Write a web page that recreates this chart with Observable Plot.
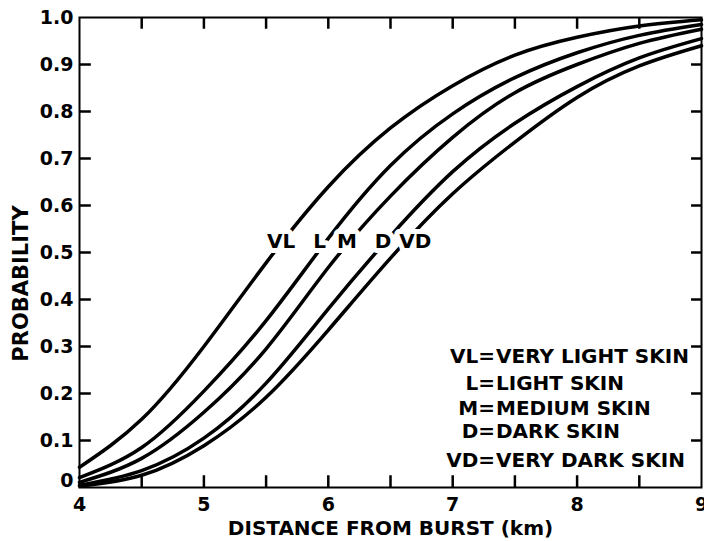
<!DOCTYPE html>
<html><head><meta charset="utf-8">
<script src="https://cdn.jsdelivr.net/npm/d3@7"></script>
<script src="https://cdn.jsdelivr.net/npm/@observablehq/plot@0.6"></script>
<style>
html,body{margin:0;padding:0;background:#fff;}
#chart svg text{font-weight:bold !important;font-family:'DejaVu Sans',sans-serif;}
</style></head><body><div id="chart"></div>
<script>
// distance from burst (km)
const distance = [4, 4.5, 5, 5.5, 6, 6.5, 7, 7.5, 8, 8.5, 9];
// probability per skin type
const veryLight = [0.043, 0.145, 0.300, 0.478, 0.640, 0.765, 0.855, 0.920, 0.958, 0.982, 0.995];
const light     = [0.021, 0.085, 0.205, 0.355, 0.530, 0.685, 0.795, 0.872, 0.925, 0.962, 0.985];
const medium    = [0.011, 0.062, 0.160, 0.295, 0.468, 0.620, 0.745, 0.840, 0.900, 0.945, 0.975];
const dark      = [0.005, 0.036, 0.105, 0.222, 0.380, 0.535, 0.672, 0.775, 0.853, 0.914, 0.955];
const veryDark  = [0.003, 0.026, 0.089, 0.192, 0.335, 0.488, 0.625, 0.735, 0.830, 0.897, 0.940];

const seriesKeys  = ["VL", "L", "M", "D", "VD"];
const seriesNames = ["VERY LIGHT SKIN", "LIGHT SKIN", "MEDIUM SKIN", "DARK SKIN", "VERY DARK SKIN"];
const seriesValues = [veryLight, light, medium, dark, veryDark];

// annotation anchors (data coordinates)
const labelX = [5.62, 5.93, 6.15, 6.44, 6.70];
const labelY = 0.523;
const legendX = 7.34;
const legendY = [0.278, 0.221, 0.168, 0.118, 0.057];

const xTickLabels = [4, 5, 6, 7, 8, 9];
const xMinorTicks = [4.5, 5, 5.5, 6, 6.5, 7, 7.5, 8, 8.5];
const yTickLabels = [0.1, 0.2, 0.3, 0.4, 0.5, 0.6, 0.7, 0.8, 0.9, 1.0];
const yTicks = [0.1, 0.2, 0.3, 0.4, 0.5, 0.6, 0.7, 0.8, 0.9];

const rows = [];
seriesKeys.forEach((k, i) => {
  distance.forEach((x, j) => rows.push({series: k, x, p: seriesValues[i][j]}));
});

const chart = Plot.plot({
  width: 704,
  height: 541,
  marginLeft: 79,
  marginRight: 3,
  marginTop: 17,
  marginBottom: 54,
  style: {background: "white", fontFamily: "'DejaVu Sans', sans-serif", overflow: "visible"},
  x: {domain: [4, 9], label: null},
  y: {domain: [0, 1], label: null},
  marks: [
    Plot.line(rows, {x: "x", y: "p", z: "series", stroke: "black", strokeWidth: 3.5, curve: "natural"}),
    Plot.text(seriesKeys, {x: (d, i) => labelX[i], y: () => labelY, text: d => d, fontSize: 20,
      fill: "black", stroke: "white", strokeWidth: 10, paintOrder: "stroke"}),
    Plot.frame({stroke: "black", strokeWidth: 2}),
    Plot.ruleX(xMinorTicks, {x: d => d, y1: 0, y2: 0.025, stroke: "black", strokeWidth: 2.5}),
    Plot.ruleX(xMinorTicks, {x: d => d, y1: 1, y2: 0.975, stroke: "black", strokeWidth: 2.5}),
    Plot.ruleY(yTicks, {y: d => d, x1: 4, x2: 4.095, stroke: "black", strokeWidth: 2.5}),
    Plot.ruleY(yTicks, {y: d => d, x1: 9, x2: 8.92, stroke: "black", strokeWidth: 2.5}),
    Plot.axisX(xTickLabels, {tickSize: 0, tickPadding: 10, fontSize: 19, tickFormat: d => String(d), label: null}),
    Plot.axisY(yTickLabels, {tickSize: 0, tickPadding: 6, fontSize: 19, tickFormat: d => d.toFixed(1), label: null}),
    Plot.axisY([0], {tickSize: 0, tickPadding: 6, fontSize: 19, tickFormat: () => "0", dy: -7, label: null}),
    Plot.text(seriesKeys, {x: () => legendX, y: (d, i) => legendY[i], text: d => d + "=", textAnchor: "end", fontSize: 20, fill: "black"}),
    Plot.text(seriesNames, {x: () => legendX, y: (d, i) => legendY[i], text: d => d, textAnchor: "start", dx: 1, fontSize: 20, fill: "black"}),
    Plot.text(["PROBABILITY"], {x: () => 4, y: () => 0.434, rotate: -90, dx: -58, fontSize: 21, fill: "black"}),
    Plot.text(["DISTANCE FROM BURST (km)"], {frameAnchor: "bottom", lineAnchor: "top", dy: 33, fontSize: 20, fill: "black"})
  ]
});
document.getElementById("chart").appendChild(chart);
</script>
</body></html>
